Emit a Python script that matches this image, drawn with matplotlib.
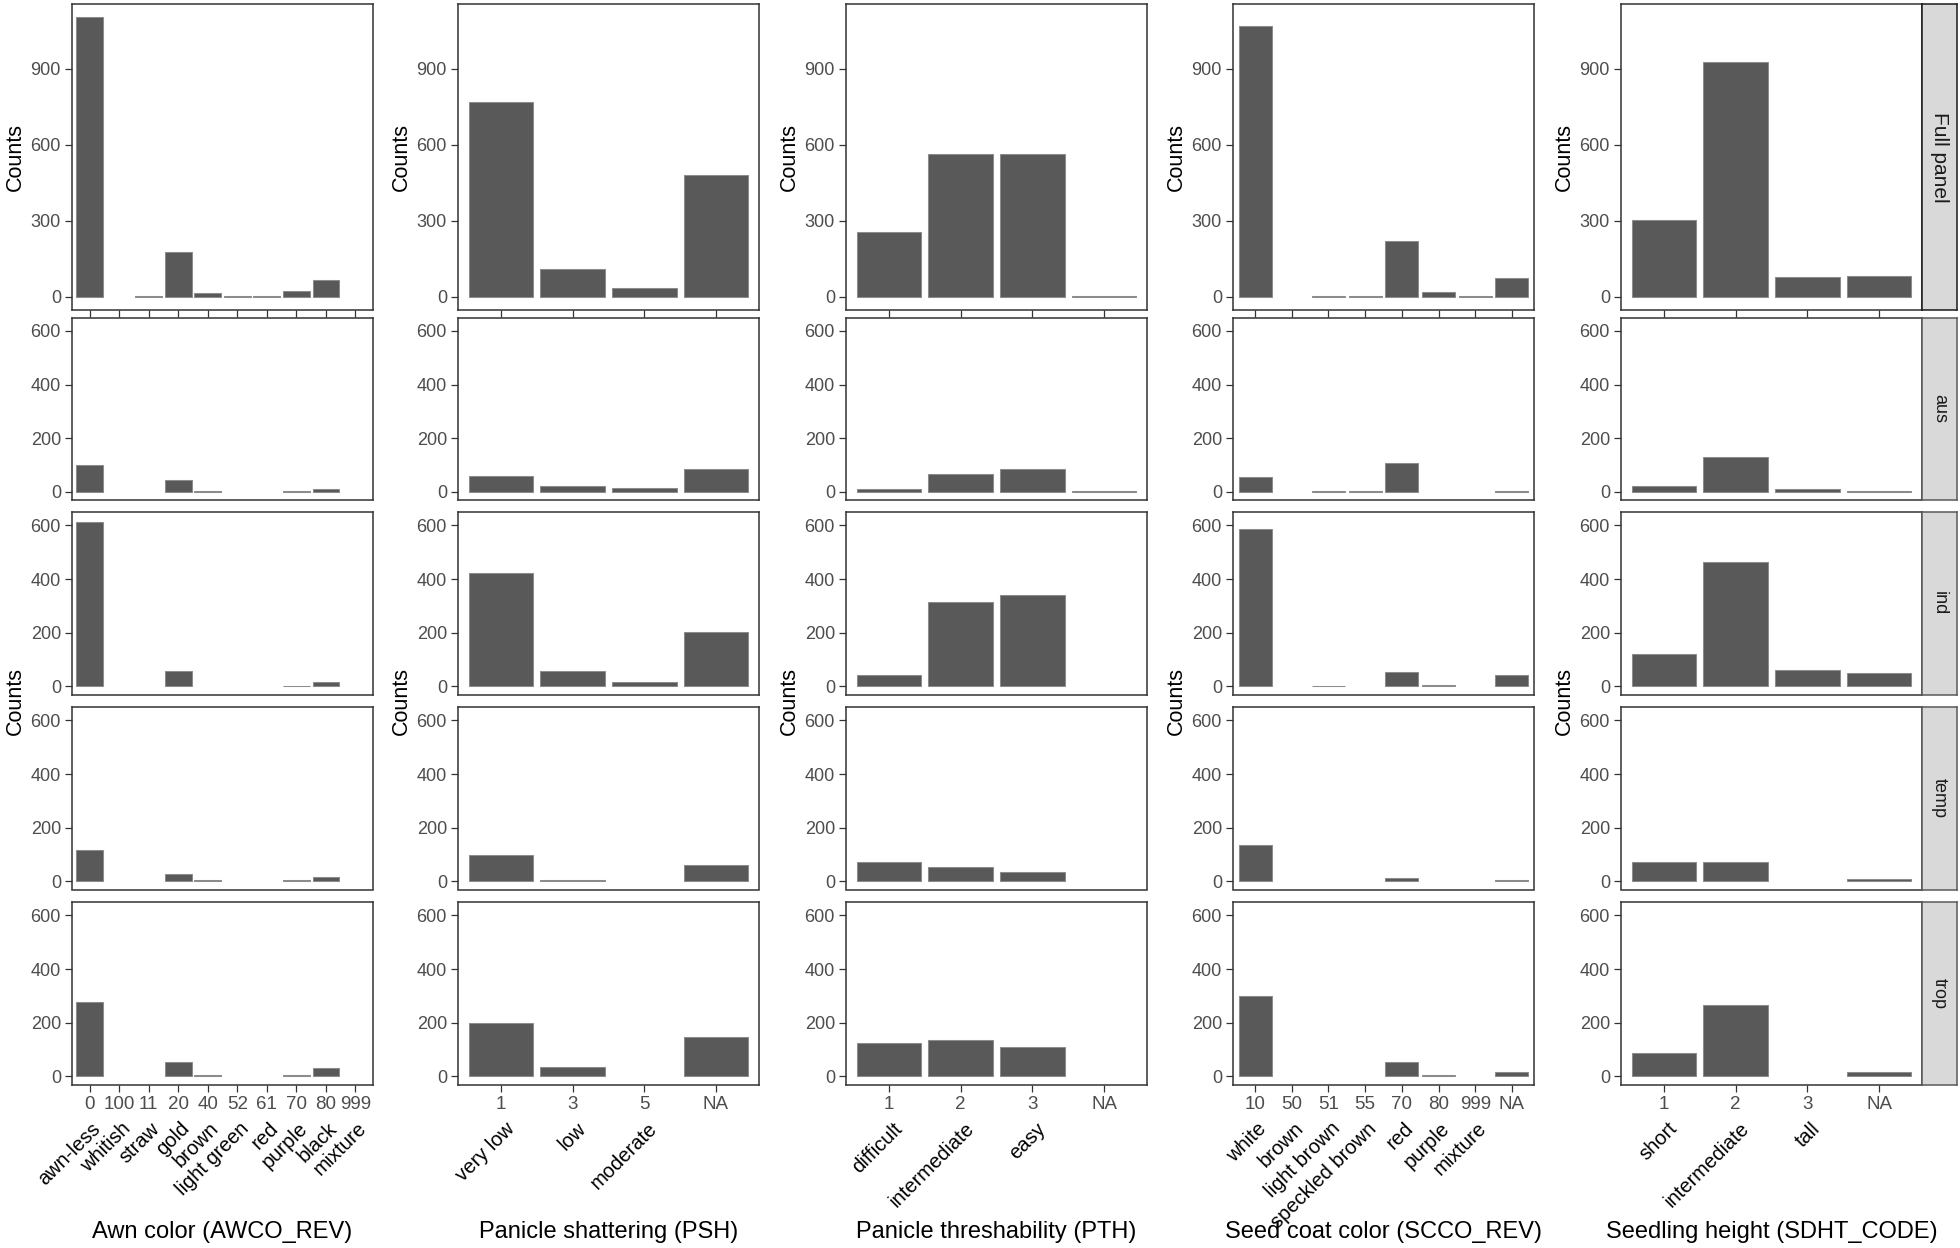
import matplotlib
matplotlib.use("Agg")
import matplotlib.pyplot as plt
from matplotlib import transforms

plt.rcParams['font.family'] = ['Liberation Sans', 'DejaVu Sans']

# ---------------- data ----------------
populations = ['Full panel', 'aus', 'ind', 'temp', 'trop']

awco_codes = ['0', '100', '11', '20', '40', '52', '61', '70', '80', '999']
awco_names = ['awn-less', 'whitish', 'straw', 'gold', 'brown', 'light green',
              'red', 'purple', 'black', 'mixture']
awco_full = [1104, 0, 3, 178, 13, 3, 3, 24, 66, 0]
awco_aus = [100, 0, 0, 43, 5, 0, 0, 4, 11, 0]
awco_ind = [613, 0, 0, 58, 0, 0, 0, 3, 18, 0]
awco_temp = [118, 0, 0, 27, 5, 0, 0, 5, 15, 0]
awco_trop = [277, 0, 0, 55, 5, 0, 0, 5, 33, 0]

psh_codes = ['1', '3', '5', 'NA']
psh_names = ['very low', 'low', 'moderate', '']
psh_full = [771, 110, 33, 480]
psh_aus = [59, 21, 13, 85]
psh_ind = [423, 57, 18, 204]
psh_temp = [98, 4, 0, 60]
psh_trop = [199, 36, 0, 147]

pth_codes = ['1', '2', '3', 'NA']
pth_names = ['difficult', 'intermediate', 'easy', '']
pth_full = [255, 562, 562, 4]
pth_aus = [10, 67, 85, 3]
pth_ind = [44, 316, 342, 0]
pth_temp = [73, 52, 37, 0]
pth_trop = [126, 137, 111, 0]

scco_codes = ['10', '50', '51', '55', '70', '80', '999', 'NA']
scco_names = ['white', 'brown', 'light brown', 'speckled brown', 'red',
              'purple', 'mixture', '']
scco_full = [1070, 0, 3, 3, 219, 19, 3, 74]
scco_aus = [54, 0, 3, 3, 108, 0, 0, 3]
scco_ind = [587, 0, 3, 0, 55, 4, 0, 44]
scco_temp = [135, 0, 0, 0, 12, 0, 0, 4]
scco_trop = [300, 0, 0, 0, 54, 5, 0, 15]

sdht_codes = ['1', '2', '3', 'NA']
sdht_names = ['short', 'intermediate', 'tall', '']
sdht_full = [302, 927, 77, 82]
sdht_aus = [23, 129, 10, 3]
sdht_ind = [122, 462, 60, 50]
sdht_temp = [73, 73, 0, 10]
sdht_trop = [88, 266, 0, 18]

traits = [
    ('Awn color (AWCO_REV)', awco_codes, awco_names,
     [awco_full, awco_aus, awco_ind, awco_temp, awco_trop]),
    ('Panicle shattering (PSH)', psh_codes, psh_names,
     [psh_full, psh_aus, psh_ind, psh_temp, psh_trop]),
    ('Panicle threshability (PTH)', pth_codes, pth_names,
     [pth_full, pth_aus, pth_ind, pth_temp, pth_trop]),
    ('Seed coat color (SCCO_REV)', scco_codes, scco_names,
     [scco_full, scco_aus, scco_ind, scco_temp, scco_trop]),
    ('Seedling height (SDHT_CODE)', sdht_codes, sdht_names,
     [sdht_full, sdht_aus, sdht_ind, sdht_temp, sdht_trop]),
]

full_ticks = [0, 300, 600, 900]
sub_ticks = [0, 200, 400, 600]

# ---------------- layout ----------------
W, H = 1960, 1248
fig = plt.figure(figsize=(W / 100, H / 100), dpi=100)

col_left = [72, 458, 846, 1233, 1621]
col_w = 301
rows = [(4, 310.5), (317.5, 500), (512, 694.5), (707, 889.5), (902, 1084.5)]

BAR = '#595959'
BORDER = '#333333'
TICKC = '#4D4D4D'


def px_axes(left, top, width, height):
    return fig.add_axes([left / W, 1 - (top + height) / H, width / W, height / H])


for ci, (title, codes, names, series) in enumerate(traits):
    n = len(codes)
    x = list(range(n))
    for ri, (top, bot) in enumerate(rows):
        ax = px_axes(col_left[ci], top, col_w, bot - top)
        vals = series[ri]
        xs = [xi for xi, v in zip(x, vals) if v > 0]
        vs = [v for v in vals if v > 0]
        ax.bar(xs, vs, width=0.9, color=BAR, edgecolor='#8c8c8c', linewidth=0.75)
        ax.set_xlim(-0.6, n - 0.4)
        if ri == 0:
            ax.set_ylim(-55, 1157)
            ax.set_yticks(full_ticks)
        else:
            ax.set_ylim(-30, 650)
            ax.set_yticks(sub_ticks)
        ax.tick_params(axis='y', labelsize=13, colors=BORDER, labelcolor=TICKC,
                       length=5, width=0.9, pad=3)
        for s in ax.spines.values():
            s.set_color(BORDER)
            s.set_linewidth(1.1)
        ax.set_xticks(x)
        if ri == 0:
            ax.tick_params(axis='x', length=5, width=0.9, colors=BORDER,
                           labelbottom=False)
        elif ri == len(rows) - 1:
            ax.set_xticklabels(codes)
            ax.tick_params(axis='x', length=5, width=0.9, colors=BORDER,
                           labelcolor=TICKC, labelsize=13.5, pad=3)
            tr = transforms.blended_transform_factory(ax.transData, fig.transFigure)
            for xi, nm in zip(x, names):
                if nm:
                    ax.text(xi + 0.05, 1 - 1119 / H, nm, transform=tr,
                            rotation=45, rotation_mode='anchor', ha='right',
                            va='top', fontsize=14.5, color='black')
        else:
            ax.tick_params(axis='x', length=0, labelbottom=False)

        # strips on the right of the last column
        if ci == len(traits) - 1:
            sax = px_axes(1922, top, 35, bot - top)
            sax.set_xticks([])
            sax.set_yticks([])
            sax.set_facecolor('#D9D9D9')
            for s in sax.spines.values():
                s.set_color('#1a1a1a' if ri == 0 else '#5a5a5a')
                s.set_linewidth(1.1)
            sax.text(0.5, 0.5, populations[ri], rotation=-90, ha='center',
                     va='center', transform=sax.transAxes,
                     fontsize=15 if ri == 0 else 13, color='#1A1A1A')

    # y-axis titles
    cx = (col_left[ci] - 57) / W
    fig.text(cx, 1 - ((rows[0][0] + rows[0][1]) / 2) / H, 'Counts',
             rotation=90, ha='center', va='center', fontsize=15.5)
    fig.text(cx, 1 - ((rows[1][0] + rows[-1][1]) / 2) / H, 'Counts',
             rotation=90, ha='center', va='center', fontsize=15.5)
    # x-axis title
    fig.text((col_left[ci] + col_w / 2) / W, 1 - 1232 / H, title,
             ha='center', va='center', fontsize=17)

fig.savefig('out.png', dpi=100, facecolor='white')
